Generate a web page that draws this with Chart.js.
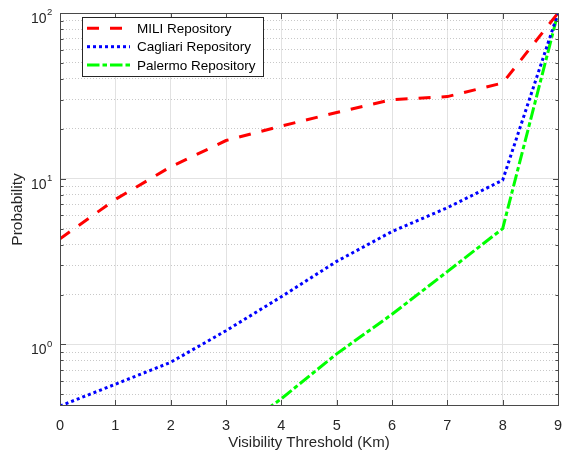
<!DOCTYPE html>
<html><head><meta charset="utf-8">
<script src="https://cdn.jsdelivr.net/npm/chart.js@4/dist/chart.umd.min.js"></script>
<style>html,body{margin:0;padding:0;background:#fff;}#wrap{position:relative;width:563px;height:455px;}canvas{display:block;}</style>
</head><body><div id="wrap"><canvas id="c" width="563" height="455" style="width:563px;height:455px"></canvas></div>
<script>
// ---- data ----
const thresholds = [0, 1, 2, 3, 4, 5, 6, 7, 8, 9];
const miliValues = [4.34, 7.5, 11.8, 17.0, 20.8, 25.1, 30.0, 31.3, 37.8, 100];
const cagliariValues = [0.425, 0.575, 0.78, 1.21, 1.94, 3.17, 4.8, 6.68, 9.8, 100];
const palermoValues = [null, null, null, 0.27, 0.47, 0.877, 1.52, 2.75, 5.0, 100];
const seriesNames = ['MILI Repository', 'Cagliari Repository', 'Palermo Repository'];
const xTickLabels = ['0', '1', '2', '3', '4', '5', '6', '7', '8', '9'];
const yDecadeExponents = [0, 1, 2];
const xTitle = 'Visibility Threshold (Km)';
const yTitle = 'Probability';
const yMin = 0.425, yMax = 100;

const FONT = "'Liberation Sans', Arial, Helvetica, sans-serif";
const AXIS_COLOR = '#262626';

function pts(vals) { return thresholds.map((x, i) => ({ x: x, y: vals[i] })); }

const legendPlugin = {
  id: 'matlabDecor',
  afterDraw(chart) {
    const ctx = chart.ctx, ca = chart.chartArea;
    const xs = chart.scales.x, ys = chart.scales.y;
    ctx.save();
    // box
    ctx.strokeStyle = '#4a4a4a';
    ctx.lineWidth = 1;
    ctx.setLineDash([]);
    const L = Math.round(ca.left) + 0.5, R = Math.round(ca.right) + 0.5;
    const T = Math.round(ca.top) + 0.5, B = Math.round(ca.bottom) - 0.5;
    ctx.strokeRect(L, T, R - L, B - T);
    // inward ticks
    ctx.beginPath();
    xs.ticks.forEach(t => {
      const px = Math.round(xs.getPixelForValue(t.value)) + 0.5;
      ctx.moveTo(px, B); ctx.lineTo(px, B - 5.5);
      ctx.moveTo(px, T); ctx.lineTo(px, T + 5.5);
    });
    ys.ticks.forEach(t => {
      const py = Math.round(ys.getPixelForValue(t.value)) + 0.5;
      const len = t.major ? 5.5 : 3;
      ctx.moveTo(L, py); ctx.lineTo(L + len, py);
      ctx.moveTo(R, py); ctx.lineTo(R - len, py);
    });
    ctx.stroke();
    // y tick labels 10^n
    ctx.fillStyle = AXIS_COLOR;
    yDecadeExponents.forEach(e => {
      const py = ys.getPixelForValue(Math.pow(10, e));
      ctx.textBaseline = 'alphabetic';
      ctx.font = '14px ' + FONT;
      ctx.textAlign = 'right';
      ctx.fillText('10', 46.5, py + 10);
      ctx.font = '9.5px ' + FONT;
      ctx.textAlign = 'left';
      ctx.fillText(String(e), 47, py + 2.3);
    });
    // legend
    const bx = 82.5, by = 17.5, bw = 181, bh = 59;
    ctx.fillStyle = '#fff';
    ctx.fillRect(bx, by, bw, bh);
    ctx.strokeStyle = AXIS_COLOR;
    ctx.lineWidth = 1;
    ctx.strokeRect(bx, by, bw, bh);
    const rows = [28.3, 46.7, 65.1];
    chart.data.datasets.forEach((ds, i) => {
      ctx.save();
      ctx.strokeStyle = ds.borderColor;
      ctx.lineWidth = ds.borderWidth;
      ctx.setLineDash(ds.borderDash || []);
      ctx.lineCap = 'butt';
      ctx.beginPath();
      ctx.moveTo(87, rows[i]); ctx.lineTo(130, rows[i]);
      ctx.stroke();
      ctx.restore();
      ctx.fillStyle = '#000';
      ctx.font = '13.5px ' + FONT;
      ctx.textAlign = 'left';
      ctx.textBaseline = 'middle';
      ctx.fillText(ds.label, 137, rows[i] + 0.7);
    });
    ctx.restore();
  }
};

new Chart(document.getElementById('c'), {
  type: 'line',
  data: {
    datasets: [
      { label: seriesNames[0], data: pts(miliValues), borderColor: '#ff0000', borderWidth: 3, borderDash: [12, 11] },
      { label: seriesNames[1], data: pts(cagliariValues), borderColor: '#0000ff', borderWidth: 3, borderDash: [3, 3] },
      { label: seriesNames[2], data: pts(palermoValues), borderColor: '#00ff00', borderWidth: 3, borderDash: [12.5, 3, 4.5, 3] }
    ].map(d => Object.assign(d, { pointRadius: 0, fill: false, tension: 0, clip: 0, spanGaps: false, borderCapStyle: 'butt' }))
  },
  options: {
    responsive: false,
    animation: false,
    devicePixelRatio: 1,
    layout: { padding: { left: 0, right: 5, top: 13, bottom: 0 } },
    plugins: { legend: { display: false }, tooltip: { enabled: false } },
    scales: {
      x: {
        type: 'linear', min: 0, max: 9,
        afterFit: s => { s.height = 49; s.paddingLeft = 0; s.paddingRight = 0; },
        afterBuildTicks: s => { s.ticks = thresholds.map(v => ({ value: v })); },
        ticks: {
          autoSkip: false, maxRotation: 0, padding: 11,
          color: AXIS_COLOR, font: { family: FONT, size: 14.5 },
          callback: (v, i) => xTickLabels[i]
        },
        grid: { color: '#e2e2e2', lineWidth: 1, drawTicks: false },
        border: { display: false },
        title: { display: true, text: xTitle, color: AXIS_COLOR, font: { family: FONT, size: 15 }, padding: { top: 0, bottom: 3.5 } }
      },
      y: {
        type: 'logarithmic', min: yMin, max: yMax,
        afterFit: s => { s.width = 60; s.paddingTop = 0; s.paddingBottom = 0; },
        afterBuildTicks: s => {
          const out = [];
          for (let e = -1; e <= 2; e++) {
            for (let k = 1; k <= 9; k++) {
              const v = parseFloat((k * Math.pow(10, e)).toPrecision(6));
              if (v >= yMin && v <= yMax) out.push({ value: v, major: k === 1 });
              if (e === 2) break;
            }
          }
          s.ticks = out;
        },
        ticks: { display: false, autoSkip: false },
        grid: {
          drawTicks: false, lineWidth: 1,
          color: c => (c.tick && c.tick.major) ? '#e2e2e2' : '#c8c8c8'
        },
        border: { display: false, dash: c => (c.tick && !c.tick.major) ? [1, 2] : [] },
        title: { display: true, text: yTitle, color: AXIS_COLOR, font: { family: FONT, size: 15.5 }, padding: { top: 8, bottom: 0 } }
      }
    }
  },
  plugins: [legendPlugin]
});
</script></body></html>
